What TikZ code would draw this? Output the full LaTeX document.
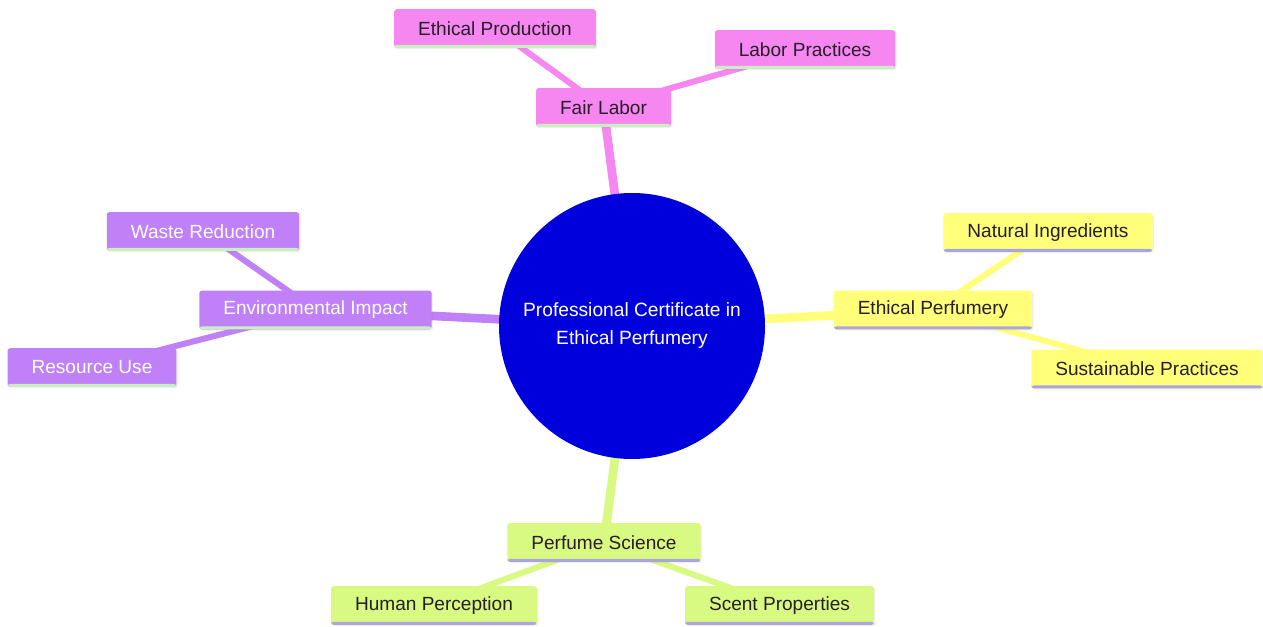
\documentclass[tikz,border=0pt]{standalone}
\usepackage{fontspec}
\setmainfont{Liberation Sans}
\usetikzlibrary{backgrounds,shadows}
\definecolor{pinkc}{RGB}{246,134,240}
\definecolor{purpc}{RGB}{191,128,248}
\definecolor{yelc}{RGB}{255,255,122}
\definecolor{grnc}{RGB}{216,249,130}
\definecolor{rootc}{RGB}{0,0,220}
\definecolor{lgreen}{RGB}{200,240,190}
\definecolor{lav}{RGB}{170,165,225}
\definecolor{txt}{RGB}{40,30,40}
\tikzset{
  box/.style={rectangle, rounded corners=2pt, minimum height=29pt, inner xsep=18pt, inner ysep=0pt,
    font=\fontsize{14.3}{16}\selectfont, text=txt,
    drop shadow={opacity=0.12, shadow xshift=1pt, shadow yshift=-1pt}},
  bline/.style={path picture={\fill[#1] ([yshift=2.2pt]path picture bounding box.south west) rectangle (path picture bounding box.south east);}},
  pinkbox/.style={box, fill=pinkc, bline=lgreen},
  purpbox/.style={box, fill=purpc, text=white, bline=lgreen},
  yelbox/.style={box, fill=yelc, bline=lav},
  grnbox/.style={box, fill=grnc, bline=lav},
  mainedge/.style={line width=6.5pt, draw=#1},
  subedge/.style={line width=4.5pt, draw=#1},
}
\begin{document}
\begin{tikzpicture}[x=0.75pt,y=-0.75pt]
\useasboundingbox (0,0) rectangle (1263,627);
\node[circle, fill=rootc, minimum size=199.5pt, inner sep=0pt, text=white, align=center,
  font=\fontsize{14.4}{21}\selectfont] (root) at (632,326) {Professional Certificate in\\Ethical Perfumery};
\node[pinkbox] (fl) at (603.5,107.5) {Fair Labor};
\node[pinkbox] (ep) at (495,28.5) {Ethical Production};
\node[pinkbox] (lp) at (805,49.5) {Labor Practices};
\node[purpbox] (ei) at (315.5,310) {Environmental Impact};
\node[purpbox] (wr) at (203,231.5) {Waste Reduction};
\node[purpbox] (ru) at (92,367.5) {Resource Use};
\node[yelbox] (ef) at (933,310) {Ethical Perfumery};
\node[yelbox] (ni) at (1048,232.5) {Natural Ingredients};
\node[yelbox] (sp) at (1147,369) {Sustainable Practices};
\node[grnbox] (ps) at (604,542.5) {Perfume Science};
\node[grnbox] (hp) at (434,605.5) {Human Perception};
\node[grnbox] (sc) at (779.5,605.5) {Scent Properties};
\begin{pgfonlayer}{background}
\fill[white] (0,0) rectangle (1263,627);
\draw[mainedge=pinkc] (root.center) -- (fl.center);
\draw[mainedge=purpc] (root.center) -- (ei.center);
\draw[mainedge=yelc] (root.center) -- (ef.center);
\draw[mainedge=grnc] (root.center) -- (ps.center);
\draw[subedge=pinkc] (fl.center) -- (ep.center);
\draw[subedge=pinkc] (fl.center) -- (lp.center);
\draw[subedge=purpc] (ei.center) -- (wr.center);
\draw[subedge=purpc] (ei.center) -- (ru.center);
\draw[subedge=yelc] (ef.center) -- (ni.center);
\draw[subedge=yelc] (ef.center) -- (sp.center);
\draw[subedge=grnc] (ps.center) -- (hp.center);
\draw[subedge=grnc] (ps.center) -- (sc.center);
\end{pgfonlayer}
\end{tikzpicture}
\end{document}
